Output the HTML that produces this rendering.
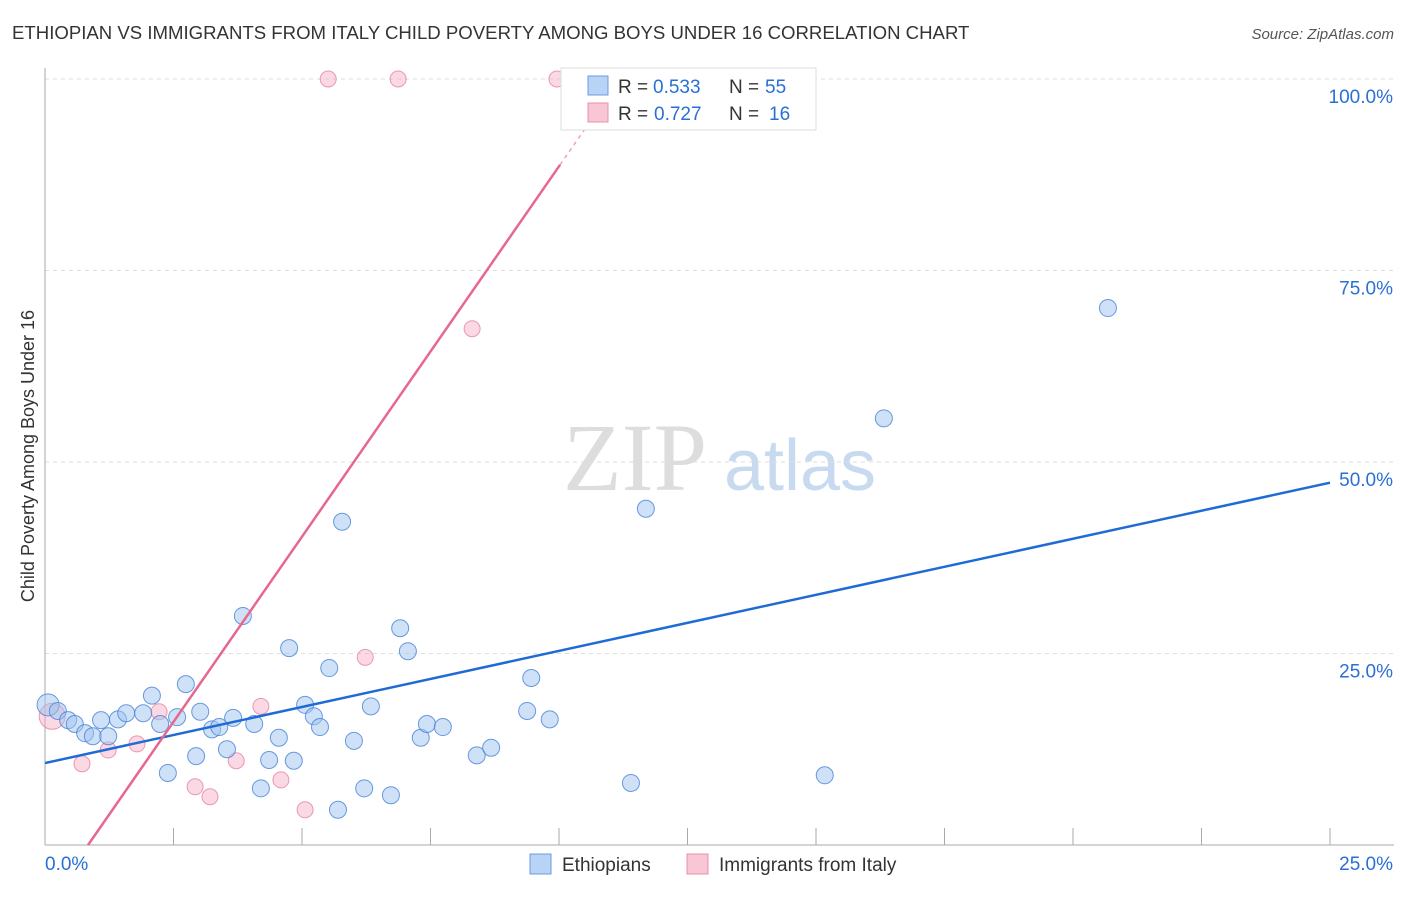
<!DOCTYPE html>
<html><head><meta charset="utf-8"><style>
body{margin:0;background:#fff;font-family:"Liberation Sans",sans-serif}
</style></head><body>
<svg width="1406" height="892" xmlns="http://www.w3.org/2000/svg" font-family="Liberation Sans, sans-serif">
<text x="12" y="39" font-size="18.6" fill="#333">ETHIOPIAN VS IMMIGRANTS FROM ITALY CHILD POVERTY AMONG BOYS UNDER 16 CORRELATION CHART</text>
<text x="1394" y="39" font-size="15" fill="#555" text-anchor="end" font-style="italic">Source: ZipAtlas.com</text>
<text x="34" y="456" font-size="18" fill="#333" text-anchor="middle" transform="rotate(-90 34 456)">Child Poverty Among Boys Under 16</text>
<g id="wm"><text x="635" y="490" font-size="96" fill="#ddd" font-family="Liberation Serif, serif" text-anchor="middle">ZIP</text><text x="800" y="490" font-size="72" fill="#c8daf0" text-anchor="middle">atlas</text></g>
<g id="grid"></g><g id="axes"></g><g id="pts"></g><g id="lines"></g>
<g>
<rect x="561" y="68" width="255" height="62" fill="#fff" stroke="#ddd"/>
<rect x="588" y="76" width="20" height="19" fill="#b8d3f5" stroke="#6a9be0"/>
<rect x="588" y="103" width="20" height="19" fill="#f8c6d5" stroke="#e890ab"/>
<text y="93" font-size="19" fill="#333"><tspan x="618">R =</tspan><tspan x="653" fill="#2a6fd6">0.533</tspan><tspan x="729">N =</tspan><tspan x="765" fill="#2a6fd6">55</tspan></text>
<text y="120" font-size="19" fill="#333"><tspan x="618">R =</tspan><tspan x="654" fill="#2a6fd6">0.727</tspan><tspan x="729">N =</tspan><tspan x="769" fill="#2a6fd6">16</tspan></text>
</g>
<g>
<rect x="530" y="854" width="21" height="20" fill="#b8d3f5" stroke="#6a9be0"/>
<text x="562" y="871" font-size="19" fill="#333">Ethiopians</text>
<rect x="687" y="854" width="21" height="20" fill="#f8c6d5" stroke="#e890ab"/>
<text x="719" y="871" font-size="19" fill="#333">Immigrants from Italy</text>
</g>
</svg>
<script>
const yTicks=[100,75,50,25];
const yTickLabels=["100.0%","75.0%","50.0%","25.0%"];
const xTickLabels=["0.0%","25.0%"];
const blueX=[.06,.25,.45,.58,.78,.93,1.09,1.23,1.42,1.58,1.91,2.08,2.24,2.39,2.57,2.74,2.94,3.02,3.25,3.39,3.54,3.66,3.85,4.07,4.20,4.36,4.55,4.75,4.84,5.06,5.23,5.35,5.53,5.70,5.78,6.01,6.21,6.34,6.73,6.91,7.06,7.31,7.43,7.74,8.40,8.68,9.38,9.46,9.82,11.40,11.69,15.17,16.32,20.68];
const blueY=[18.3,17.5,16.3,15.8,14.6,14.2,16.3,14.2,16.4,17.2,17.2,19.5,15.8,9.4,16.7,21.0,11.6,17.4,15.1,15.4,12.5,16.6,29.9,15.8,7.4,11.1,14.0,25.7,11.0,18.3,16.8,15.4,23.1,4.6,42.2,13.6,7.4,18.1,6.5,28.3,25.3,14.0,15.8,15.4,11.7,12.7,17.5,21.8,16.4,8.1,43.9,9.1,55.7,70.1];
const pinkX=[.14,.72,1.23,1.79,2.22,2.92,3.21,3.72,4.20,4.59,5.06,6.23,5.51,6.87,9.96,8.31];
const pinkY=[16.8,10.6,12.4,13.2,17.4,7.6,6.3,11.0,18.1,8.5,4.6,24.5,100,100,100,67.4];
const blueFit=[10.7,1.464];
const pinkFit=[-8.1,9.67];
const X=v=>45+v/25*1285, Y=v=>845-v/100*766;
const NS="http://www.w3.org/2000/svg";
function mk(p,t,a){const e=document.createElementNS(NS,t);for(const k in a)e.setAttribute(k,a[k]);document.getElementById(p).appendChild(e);return e;}
yTicks.forEach((t,i)=>{
 const g=mk('grid','line',{x1:45,x2:1394,y1:Y(t),y2:Y(t),stroke:'#ddd','stroke-dasharray':'4 4'});
 
 
 const l=mk('axes','text',{x:1393,y:Y(t)+24,'font-size':19,fill:'#2a6fd6','text-anchor':'end'});l.textContent=yTickLabels[i];
 
 
});
let a=mk('axes','line',{x1:45,x2:45,y1:68,y2:845,stroke:'#aaa'});


a=mk('axes','line',{x1:45,x2:1394,y1:845,y2:845,stroke:'#aaa'});


for(let i=1;i<=10;i++){const t=mk('axes','line',{x1:X(i*2.5),x2:X(i*2.5),y1:828,y2:845,stroke:'#aaa'});
 
 }
[[xTickLabels[0],45,'start'],[xTickLabels[1],1393,'end']].forEach(d=>{const t=mk('axes','text',{x:d[1],y:870,'font-size':19,fill:'#2a6fd6','text-anchor':d[2]});t.textContent=d[0];
 
 });
pinkX.forEach((x,i)=>{const c=mk('pts','circle',{cx:X(x),cy:Y(pinkY[i]),r:i==0?13:8,fill:'rgba(245,170,195,0.45)',stroke:'rgba(230,130,160,0.8)'});
 
 });
blueX.forEach((x,i)=>{const c=mk('pts','circle',{cx:X(x),cy:Y(blueY[i]),r:i==0?11:8.5,fill:'rgba(160,196,240,0.5)',stroke:'rgba(70,130,215,0.8)'});
 
 });
let ln=mk('lines','line',{x1:X(0),y1:Y(blueFit[0]),x2:X(25),y2:Y(blueFit[0]+blueFit[1]*25),stroke:'#1f6bd6','stroke-width':2.5});


const px0=-pinkFit[0]/pinkFit[1], px1=(88.8-pinkFit[0])/pinkFit[1], px2=(93-pinkFit[0])/pinkFit[1]+0.25;
ln=mk('lines','line',{x1:X(px0),y1:Y(0),x2:X(px1),y2:Y(pinkFit[0]+pinkFit[1]*px1),stroke:'#e8678f','stroke-width':2.5});


ln=mk('lines','line',{x1:X(px1),y1:Y(pinkFit[0]+pinkFit[1]*px1),x2:X(px2),y2:Y(pinkFit[0]+pinkFit[1]*px2),stroke:'#f0a0b8','stroke-width':1.5,'stroke-dasharray':'4 4'});


</script>
</body></html>
